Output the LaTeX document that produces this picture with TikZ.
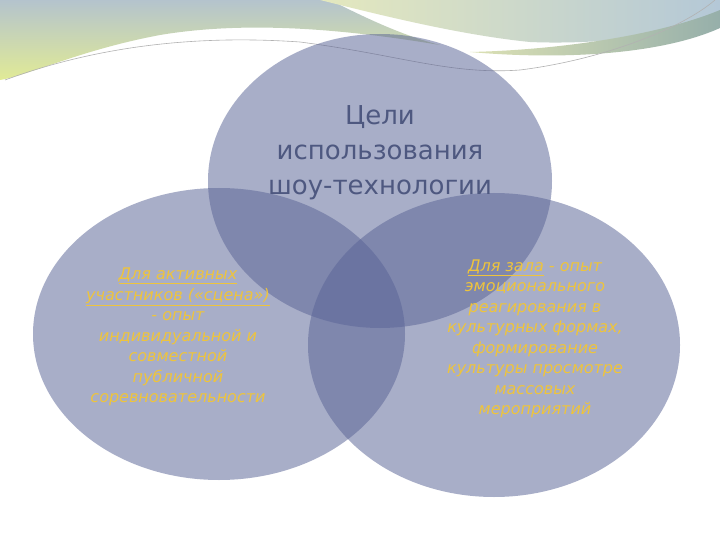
\documentclass[tikz,border=0pt]{standalone}
\usepackage{fontspec}
\setmainfont{DejaVu Sans}
\begin{document}
\begin{tikzpicture}[x=1pt,y=-1pt,
  circ/.style={fill={rgb,255:red,90;green,100;blue,150},fill opacity=0.52,draw=none},
  ytext/.style={text={rgb,255:red,238;green,196;blue,60},font=\fontsize{16}{20.5}\selectfont\itshape,align=center},
  ttext/.style={text={rgb,255:red,78;green,88;blue,128},font=\fontsize{26}{35}\selectfont,align=center}]
\useasboundingbox (0,0) rectangle (720,540);
\fill[white] (0,0) rectangle (720,540);
% background swooshes
\shade[top color={rgb,255:red,180;green,195;blue,205},bottom color={rgb,255:red,225;green,235;blue,150}]
  (0,0) -- (330,0) .. controls (360,15) and (400,35) .. (440,45) .. controls (350,30) and (250,20) .. (160,35) .. controls (80,50) and (30,75) .. (0,80) -- cycle;
\shade[left color={rgb,255:red,228;green,232;blue,190},right color={rgb,255:red,180;green,200;blue,215}]
  (320,0) -- (720,0) -- (720,20) .. controls (680,35) and (600,45) .. (530,42) .. controls (460,35) and (380,15) .. (320,0) -- cycle;
\shade[left color={rgb,255:red,220;green,225;blue,180},right color={rgb,255:red,150;green,175;blue,170}]
  (470,52) .. controls (560,50) and (660,35) .. (720,10) -- (720,28) .. controls (660,55) and (560,60) .. (470,52) -- cycle;
\draw[gray!60,line width=0.6pt] (5,80) .. controls (100,45) and (200,35) .. (300,42) .. controls (400,55) and (450,75) .. (520,70) .. controls (600,60) and (680,30) .. (715,0);
% circles
\fill[circ] (380,181) ellipse [x radius=172, y radius=147];
\fill[circ] (219,334) ellipse [x radius=186, y radius=146];
\fill[circ] (494,345) ellipse [x radius=186, y radius=152];
\node[ttext] (t) at (380,153) {Цели\\использования\\шоу-технологии};
\node[ytext] (l) at (178,337) {\underline{Для активных}\\\underline{участников («сцена»)}\\- опыт\\индивидуальной и\\совместной\\публичной\\соревновательности};
\node[ytext] (r) at (535,339) {\underline{Для зала} - опыт\\эмоционального\\реагирования в\\культурных формах,\\формирование\\культуры просмотре\\массовых\\мероприятий};
\end{tikzpicture}
\end{document}
